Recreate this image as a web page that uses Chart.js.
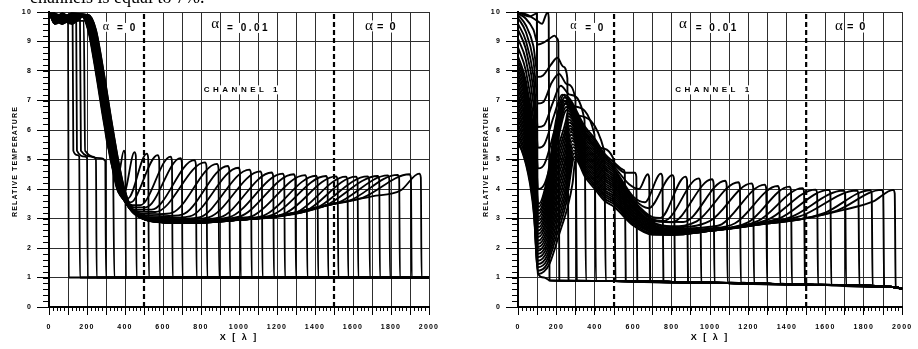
<!DOCTYPE html>
<html>
<head>
<meta charset="utf-8">
<script src="https://cdn.jsdelivr.net/npm/chart.js@4.4.1/dist/chart.umd.min.js"></script>
<style>
  html, body { margin: 0; padding: 0; background: #fff; }
  body { width: 918px; height: 349px; position: relative; overflow: hidden; }
  #wl { position: absolute; left: 0; top: 0; width: 458px; height: 349px; }
  #wr { position: absolute; left: 458px; top: 0; width: 460px; height: 349px; }
  #capt { position: absolute; left: 30px; top: -13px; font: 18px "Liberation Serif", serif; color: #000; white-space: nowrap; }
</style>
</head>
<body>
<div id="wl"><canvas id="cl"></canvas></div>
<div id="wr"><canvas id="cr"></canvas></div>
<div id="capt">channels is equal to 7%.</div>
<script>
// axis values
const X_LABELS = [0, 200, 400, 600, 800, 1000, 1200, 1400, 1600, 1800, 2000];
const Y_LABELS = [0, 1, 2, 3, 4, 5, 6, 7, 8, 9, 10];
const ALPHA_EDGES = [500, 1500];   // dashed limits of the alpha = 0.01 zone

// cold side ahead of the fronts
const BASE_L = [[2000, 1]];
const BASE_R = [[500, 0.88], [1000, 0.82], [1500, 0.76], [1950, 0.68], [2000, 0.62]];

// left panel profiles, each one stops where its front drops
const LEFT_CURVES = [
  [[0,10],[60,9.8],[100,9.9],[104,1]],
  [[0,10],[60,9.75],[124,9.9],[128,5.3],[150,5.15],[159,5.1],[163,1]],
  [[0,10],[70,9.7],[143,9.85],[147,5.3],[190,5.1],[200,5.05],[204,1]],
  [[0,10],[70,9.7],[163,9.8],[168,5.3],[230,5.1],[247,5.0],[251,1]],
  [[0,10],[80,9.7],[183,9.7],[190,5.3],[270,5.05],[296,4.95],[300,1]],
  [[0,10],[30,9.7],[70,9.9],[120,9.75],[165,9.9],[205,9.4],[245,8.0],[290,6.2],[318,5.3],[336,5.15],[344,1]],
  [[0,10],[30,9.9],[70,9.65],[120,9.85],[167,9.9],[207,9.4],[247,8.0],[292,6.2],[327,4.9],[350,4.5],[368,4.55],[394,5.3],[401,5.18],[405,1]],
  [[0,10],[30,9.8],[70,9.75],[120,9.95],[168,9.9],[208,9.4],[248,8.0],[293,6.2],[328,4.9],[358,4.0],[380,3.8],[400,3.9],[450,5.25],[457,5.12],[461,1]],
  [[0,10],[30,9.65],[70,9.85],[120,9.7],[170,9.9],[210,9.4],[250,8.0],[295,6.2],[330,4.9],[360,4.0],[390,3.7],[415,3.68],[515,5.2],[522,5.06],[526,1]],
  [[0,10],[30,9.75],[70,9.95],[120,9.8],[171,9.9],[211,9.4],[251,8.0],[296,6.2],[331,4.9],[361,4.0],[400,3.6],[430,3.55],[445,3.6],[572,5.15],[580,5.0],[584,1]],
  [[0,10],[30,9.9],[70,9.7],[120,9.9],[173,9.9],[213,9.4],[253,8.0],[298,6.2],[333,4.9],[363,4.0],[403,3.56],[440,3.45],[480,3.45],[640,5.1],[647,4.95],[651,1]],
  [[0,10],[30,9.6],[70,9.8],[120,9.65],[174,9.9],[214,9.4],[254,8.0],[299,6.2],[334,4.9],[364,4.0],[405,3.53],[450,3.38],[510,3.38],[692,5.05],[699,4.9],[703,1]],
  [[0,10],[30,9.85],[70,9.6],[120,9.85],[176,9.9],[216,9.4],[256,8.0],[301,6.2],[336,4.9],[366,4.0],[408,3.5],[460,3.3],[540,3.3],[765,4.98],[773,4.84],[777,1]],
  [[0,10],[30,9.7],[70,9.9],[120,9.75],[177,9.9],[217,9.4],[257,8.0],[302,6.2],[337,4.9],[367,4.0],[410,3.48],[470,3.24],[560,3.22],[821,4.9],[829,4.77],[833,1]],
  [[0,10],[30,9.95],[70,9.75],[120,9.6],[179,9.9],[219,9.4],[259,8.0],[304,6.2],[339,4.9],[369,4.0],[412,3.46],[480,3.18],[580,3.15],[650,3.2],[884,4.85],[892,4.72],[896,1]],
  [[0,10],[30,9.65],[70,9.85],[120,9.9],[180,9.9],[220,9.4],[260,8.0],[305,6.2],[340,4.9],[370,4.0],[414,3.44],[490,3.12],[600,3.08],[700,3.13],[941,4.78],[949,4.65],[953,1]],
  [[0,10],[30,9.8],[70,9.65],[120,9.75],[182,9.9],[222,9.4],[262,8.0],[307,6.2],[342,4.9],[372,4.0],[416,3.42],[500,3.07],[620,3.02],[740,3.07],[997,4.72],[1005,4.59],[1009,1]],
  [[0,10],[30,9.7],[70,9.95],[120,9.7],[183,9.9],[223,9.4],[263,8.0],[308,6.2],[343,4.9],[373,4.0],[418,3.4],[510,3.03],[640,2.98],[790,3.04],[1055,4.66],[1063,4.53],[1067,1]],
  [[0,10],[30,9.9],[70,9.8],[120,9.85],[185,9.9],[225,9.4],[265,8.0],[310,6.2],[345,4.9],[375,4.0],[420,3.38],[520,3.0],[650,2.95],[840,3.04],[1112,4.6],[1120,4.47],[1124,1]],
  [[0,10],[30,9.6],[70,9.7],[120,9.95],[186,9.9],[226,9.4],[266,8.0],[311,6.2],[346,4.9],[376,4.0],[422,3.36],[530,2.98],[660,2.92],[900,3.04],[1172,4.56],[1180,4.43],[1184,1]],
  [[0,10],[30,9.85],[70,9.9],[120,9.65],[188,9.9],[228,9.4],[268,8.0],[313,6.2],[348,4.9],[378,4.0],[424,3.34],[540,2.96],[670,2.9],[950,3.05],[1230,4.52],[1238,4.39],[1242,1]],
  [[0,10],[30,9.75],[70,9.6],[120,9.8],[189,9.9],[229,9.4],[269,8.0],[314,6.2],[349,4.9],[379,4.0],[426,3.32],[550,2.94],[680,2.89],[1000,3.06],[1288,4.5],[1296,4.37],[1300,1]],
  [[0,10],[30,9.95],[70,9.85],[120,9.7],[191,9.9],[231,9.4],[271,8.0],[316,6.2],[351,4.9],[381,4.0],[428,3.31],[560,2.93],[690,2.88],[1000,3.02],[1070,3.08],[1348,4.47],[1356,4.34],[1360,1]],
  [[0,10],[30,9.65],[70,9.75],[120,9.9],[192,9.9],[232,9.4],[272,8.0],[317,6.2],[352,4.9],[382,4.0],[430,3.3],[570,2.92],[700,2.87],[1000,3.0],[1130,3.1],[1405,4.45],[1413,4.32],[1417,1]],
  [[0,10],[30,9.8],[70,9.95],[120,9.6],[194,9.9],[234,9.4],[274,8.0],[319,6.2],[354,4.9],[384,4.0],[432,3.29],[575,2.91],[700,2.86],[1000,2.98],[1180,3.13],[1458,4.44],[1466,4.31],[1470,1]],
  [[0,10],[30,9.7],[70,9.65],[120,9.85],[195,9.9],[235,9.4],[275,8.0],[320,6.2],[355,4.9],[385,4.0],[434,3.28],[580,2.9],[705,2.86],[1000,2.97],[1240,3.17],[1511,4.43],[1519,4.3],[1523,1]],
  [[0,10],[30,9.9],[70,9.8],[120,9.75],[197,9.9],[237,9.4],[277,8.0],[322,6.2],[357,4.9],[387,4.0],[436,3.27],[585,2.89],[710,2.85],[1000,2.96],[1300,3.2],[1563,4.42],[1571,4.29],[1575,1]],
  [[0,10],[30,9.6],[70,9.9],[120,9.7],[198,9.9],[238,9.4],[278,8.0],[323,6.2],[358,4.9],[388,4.0],[438,3.26],[590,2.88],[712,2.85],[1000,2.95],[1200,3.08],[1350,3.25],[1616,4.42],[1624,4.29],[1628,1]],
  [[0,10],[30,9.85],[70,9.7],[120,9.95],[200,9.9],[240,9.4],[280,8.0],[325,6.2],[360,4.9],[390,4.0],[440,3.25],[595,2.88],[715,2.84],[1000,2.95],[1200,3.08],[1400,3.33],[1677,4.43],[1685,4.3],[1689,1]],
  [[0,10],[30,9.75],[70,9.85],[120,9.65],[201,9.9],[241,9.4],[281,8.0],[326,6.2],[361,4.9],[391,4.0],[442,3.24],[600,2.87],[718,2.84],[1000,2.95],[1200,3.08],[1450,3.42],[1730,4.44],[1738,4.31],[1742,1]],
  [[0,10],[30,9.95],[70,9.6],[120,9.8],[203,9.9],[243,9.4],[283,8.0],[328,6.2],[363,4.9],[393,4.0],[444,3.23],[605,2.87],[720,2.84],[1000,2.95],[1200,3.08],[1480,3.48],[1520,3.53],[1783,4.46],[1791,4.33],[1795,1]],
  [[0,10],[30,9.7],[70,9.8],[120,9.9],[204,9.9],[244,9.4],[284,8.0],[329,6.2],[364,4.9],[394,4.0],[446,3.22],[610,2.86],[722,2.84],[1000,2.95],[1200,3.08],[1500,3.5],[1580,3.6],[1835,4.48],[1843,4.35],[1847,1]],
  [[0,10],[30,9.8],[70,9.7],[120,9.75],[206,9.9],[246,9.4],[286,8.0],[331,6.2],[366,4.9],[396,4.0],[448,3.21],[615,2.86],[725,2.84],[1000,2.95],[1200,3.08],[1500,3.5],[1650,3.7],[1897,4.5],[1905,4.37],[1909,1]],
  [[0,10],[30,9.65],[70,9.9],[120,9.85],[207,9.9],[247,9.4],[287,8.0],[332,6.2],[367,4.9],[397,4.0],[450,3.2],[620,2.86],[730,2.84],[1000,2.95],[1200,3.08],[1500,3.5],[1700,3.75],[1850,3.95],[1949,4.52],[1957,4.39],[1961,1]]
];

// right panel profiles
const RIGHT_CURVES = [
  [[0,10],[60,9.85],[98,9.95],[103,1.15],[135,1.0],[168,0.9]],
  [[0,10],[50,9.9],[100,9.7],[125,9.6],[145,9.9],[155,10],[160,9.8],[164,0.9]],
  [[0,9.95],[40,9.78],[80,9.4],[105,8.9],[130,8.95],[165,9.1],[190,9.2],[205,9.1],[210,8.95],[215,0.9]],
  [[0,9.9],[40,9.56],[80,8.85],[105,7.8],[130,7.85],[170,8.2],[205,8.45],[235,8.15],[257,7.75],[263,0.9]],
  [[0,9.8],[40,9.34],[80,8.35],[106,6.9],[132,6.95],[175,7.6],[214,7.9],[255,7.55],[299,7.05],[306,0.9]],
  [[0,9.6],[40,9.04],[80,7.85],[106,6.1],[134,6.15],[180,6.9],[222,7.5],[270,7.2],[346,6.35],[354,0.89]],
  [[0,9.4],[40,8.76],[80,7.4],[107,5.4],[136,5.5],[188,6.5],[230,7.2],[290,6.8],[398,5.85],[406,0.89]],
  [[0,9.1],[40,8.4],[80,6.9],[107,4.7],[138,4.85],[195,6.1],[238,7.0],[300,6.5],[449,5.3],[457,0.89]],
  [[0,8.8],[40,8.03],[80,6.4],[108,4.0],[140,4.2],[202,5.7],[246,6.9],[310,6.3],[420,5.4],[500,4.98],[508,0.88]],
  [[0,8.5],[40,7.7],[80,6.0],[108,3.5],[150,4.3],[200,6.4],[240,7.2],[350,6.1],[400,5.7],[450,5.2],[500,4.9],[549,4.65],[556,4.55],[561,0.88]],
  [[0,8.36],[40,7.56],[80,5.87],[108,3.39],[150,4.16],[200,6.2],[243,7.1],[350,6.02],[400,5.62],[450,5.12],[500,4.83],[560,4.55],[608,4.55],[616,4.42],[621,0.88]],
  [[0,8.21],[40,7.42],[80,5.74],[108,3.27],[150,4.01],[200,6.0],[246,6.99],[350,5.94],[400,5.54],[450,5.05],[500,4.76],[580,4.15],[630,4.0],[675,4.5],[683,4.37],[688,0.87]],
  [[0,8.07],[40,7.28],[80,5.62],[107,3.16],[150,3.87],[200,5.8],[248,6.89],[350,5.86],[400,5.46],[450,4.97],[500,4.69],[600,3.74],[660,3.55],[744,4.52],[752,4.39],[757,0.87]],
  [[0,7.93],[40,7.15],[80,5.49],[107,3.05],[150,3.73],[200,5.6],[251,6.78],[350,5.78],[400,5.38],[450,4.9],[500,4.62],[600,3.68],[680,3.35],[804,4.47],[812,4.34],[817,0.86]],
  [[0,7.79],[40,7.01],[80,5.36],[107,2.93],[150,3.58],[200,5.4],[254,6.68],[350,5.7],[400,5.3],[450,4.82],[500,4.55],[600,3.63],[700,3.05],[740,3.02],[872,4.42],[880,4.29],[885,0.86]],
  [[0,7.64],[40,6.87],[80,5.23],[107,2.82],[150,3.44],[200,5.2],[250,6.33],[257,6.57],[350,5.61],[400,5.21],[450,4.74],[500,4.47],[600,3.58],[700,2.98],[760,2.92],[941,4.36],[949,4.23],[954,0.85]],
  [[0,7.5],[40,6.73],[80,5.1],[107,2.71],[150,3.3],[200,5.0],[250,6.12],[260,6.47],[350,5.53],[400,5.13],[450,4.67],[500,4.4],[600,3.52],[700,2.95],[800,2.87],[1010,4.33],[1018,4.2],[1023,0.84]],
  [[0,7.36],[40,6.6],[80,4.98],[106,2.59],[150,3.16],[200,4.8],[250,5.94],[262,6.36],[350,5.45],[400,5.05],[450,4.59],[500,4.33],[600,3.47],[700,2.91],[860,2.88],[1078,4.28],[1086,4.15],[1091,0.84]],
  [[0,7.21],[40,6.45],[80,4.85],[106,2.48],[150,3.01],[200,4.6],[250,5.74],[265,6.26],[350,5.37],[400,4.97],[450,4.52],[500,4.26],[600,3.41],[700,2.88],[800,2.74],[930,2.9],[1147,4.23],[1155,4.1],[1160,0.83]],
  [[0,7.07],[40,6.32],[80,4.72],[106,2.37],[150,2.87],[200,4.4],[250,5.52],[268,6.15],[350,5.29],[400,4.89],[450,4.44],[500,4.19],[600,3.36],[700,2.84],[800,2.7],[1000,2.92],[1216,4.19],[1224,4.06],[1229,0.82]],
  [[0,6.93],[40,6.18],[80,4.59],[106,2.25],[150,2.73],[200,4.2],[250,5.32],[271,6.05],[350,5.21],[400,4.81],[450,4.36],[500,4.12],[600,3.31],[700,2.8],[800,2.65],[1000,2.72],[1060,2.8],[1284,4.15],[1292,4.02],[1297,0.81]],
  [[0,6.79],[40,6.05],[80,4.47],[106,2.14],[150,2.58],[200,4.0],[250,5.1],[274,5.94],[350,5.13],[400,4.73],[450,4.29],[500,4.05],[600,3.25],[700,2.77],[800,2.61],[1000,2.66],[1130,2.84],[1352,4.1],[1360,3.97],[1365,0.8]],
  [[0,6.64],[40,5.9],[80,4.34],[106,2.03],[150,2.44],[200,3.8],[250,4.93],[276,5.84],[350,5.05],[400,4.65],[450,4.21],[500,3.98],[600,3.2],[700,2.73],[800,2.58],[1000,2.63],[1200,2.88],[1413,4.08],[1421,3.95],[1426,0.79]],
  [[0,6.5],[40,5.77],[80,4.2],[105,1.91],[150,2.3],[200,3.6],[250,4.72],[279,5.73],[350,4.97],[400,4.57],[450,4.14],[500,3.91],[600,3.14],[700,2.7],[800,2.55],[1000,2.61],[1250,2.92],[1481,4.03],[1489,3.9],[1494,0.78]],
  [[0,6.36],[40,5.63],[80,4.08],[105,1.8],[150,2.15],[200,3.4],[250,4.51],[282,5.63],[350,4.89],[400,4.49],[450,4.06],[500,3.84],[600,3.09],[700,2.66],[800,2.52],[1000,2.6],[1300,2.96],[1549,3.98],[1557,3.86],[1562,0.77]],
  [[0,6.21],[40,5.49],[80,3.95],[105,1.69],[150,2.01],[200,3.2],[250,4.3],[285,5.52],[350,4.8],[400,4.4],[450,3.98],[500,3.76],[600,3.04],[700,2.63],[800,2.5],[1000,2.59],[1200,2.79],[1360,3.0],[1618,3.97],[1626,3.85],[1631,0.76]],
  [[0,6.07],[40,5.35],[80,3.82],[105,1.57],[150,1.87],[200,3.0],[250,4.09],[288,5.42],[350,4.72],[400,4.32],[450,3.91],[500,3.69],[600,2.98],[700,2.59],[800,2.48],[1000,2.58],[1234,2.78],[1420,3.05],[1695,3.95],[1703,3.83],[1708,0.74]],
  [[0,5.93],[40,5.21],[80,3.7],[105,1.46],[150,1.72],[200,2.8],[250,3.91],[290,5.31],[350,4.64],[400,4.24],[450,3.83],[500,3.62],[600,2.93],[700,2.55],[800,2.46],[1000,2.58],[1234,2.78],[1470,3.08],[1764,3.95],[1772,3.83],[1777,0.73]],
  [[0,5.79],[40,5.08],[80,3.57],[104,1.35],[150,1.58],[200,2.6],[250,3.71],[293,5.21],[350,4.56],[400,4.16],[450,3.76],[500,3.55],[600,2.87],[700,2.52],[800,2.45],[1000,2.58],[1234,2.78],[1491,3.0],[1600,3.2],[1833,3.96],[1841,3.84],[1846,0.71]],
  [[0,5.64],[40,4.93],[80,3.44],[104,1.23],[150,1.44],[200,2.4],[250,3.49],[296,5.1],[350,4.48],[400,4.08],[450,3.68],[500,3.48],[600,2.82],[700,2.48],[800,2.45],[1000,2.58],[1234,2.78],[1491,3.0],[1660,3.27],[1893,3.97],[1901,3.85],[1906,0.7]],
  [[0,5.5],[19,5.32],[62,4.19],[85,3.0],[104,1.12],[135,1.2],[165,1.48],[216,2.5],[259,3.41],[284,4.19],[299,5.0],[350,4.4],[400,4.0],[450,3.6],[500,3.4],[600,2.76],[700,2.45],[800,2.45],[1000,2.58],[1234,2.78],[1491,3.0],[1700,3.3],[1850,3.58],[1953,3.97],[1961,3.85],[1966,0.68],[2000,0.62]]
];

const SANS = 'Arial, "Liberation Sans", sans-serif';
const SERIF = '"Times New Roman", "Liberation Serif", serif';

function buildDatasets(curves, tail, width) {
  const sets = curves.map(pts => {
    const lastX = pts[pts.length - 1][0];
    const all = pts.concat(tail.filter(p => p[0] > lastX));
    return {
      data: all.map(([x, y]) => ({ x, y })),
      borderColor: '#000',
      borderWidth: width,
      pointRadius: 0,
      fill: false,
      cubicInterpolationMode: 'monotone'
    };
  });
  ALPHA_EDGES.forEach(v => sets.push({
    data: [{ x: v, y: 0 }, { x: v, y: 10 }],
    borderColor: '#000',
    borderWidth: 2.2,
    borderDash: [5, 3],
    pointRadius: 0,
    fill: false
  }));
  return sets;
}

// minor ticks outside the axes, spaced tick labels
const minorTicks = {
  id: 'minorTicks',
  beforeDraw(chart) { chart.ctx.letterSpacing = '1.2px'; },
  afterDraw(chart) {
    const { ctx, scales: { x, y }, chartArea: a } = chart;
    ctx.save();
    ctx.letterSpacing = '0px';
    ctx.strokeStyle = '#000';
    ctx.lineWidth = 1;
    ctx.beginPath();
    for (let v = 0; v <= 2000; v += 20) {
      const px = Math.round(x.getPixelForValue(v)) + 0.5;
      ctx.moveTo(px, a.bottom);
      ctx.lineTo(px, a.bottom + 4);
    }
    for (let i = 0; i <= 50; i++) {
      const py = Math.round(y.getPixelForValue(i / 5)) + 0.5;
      ctx.moveTo(a.left - 6, py);
      ctx.lineTo(a.left, py);
    }
    ctx.stroke();
    ctx.restore();
  }
};

// annotations and axis titles
const labelsPlugin = {
  id: 'texts',
  afterDraw(chart, args, opts) {
    const { ctx, scales: { x, y }, chartArea: a } = chart;
    ctx.save();
    ctx.textBaseline = 'middle';
    for (const t of opts.items) {
      ctx.font = t.font;
      ctx.letterSpacing = (t.sp || 0) + 'px';
      ctx.textAlign = t.align || 'left';
      const px = x.getPixelForValue(t.x);
      const py = y.getPixelForValue(t.y);
      const w = ctx.measureText(t.text).width;
      const left = t.align === 'center' ? px - w / 2 : px;
      ctx.fillStyle = '#fff';
      ctx.fillRect(left - 1, py - t.h / 2, w + 1, t.h);
      ctx.fillStyle = '#000';
      ctx.fillText(t.text, px, py);
    }
    ctx.font = 'bold 9px ' + SANS;
    ctx.letterSpacing = '2px';
    ctx.textAlign = 'center';
    ctx.fillText('X [ λ ]', (a.left + a.right) / 2, 338);
    ctx.font = 'bold 7px ' + SANS;
    ctx.letterSpacing = '1.1px';
    ctx.translate(opts.yTitleX, (a.top + a.bottom) / 2 + 2);
    ctx.rotate(-Math.PI / 2);
    ctx.fillText('RELATIVE TEMPERATURE', 0, 0);
    ctx.restore();
  }
};

function makeChart(id, curves, tail, width, axisWidth, padRight, yTitleX, items) {
  return new Chart(document.getElementById(id), {
    type: 'line',
    data: { datasets: buildDatasets(curves, tail, width) },
    options: {
      responsive: true,
      maintainAspectRatio: false,
      animation: false,
      events: [],
      layout: { padding: { top: 12, right: padRight, left: 0, bottom: 0 } },
      scales: {
        x: {
          type: 'linear', min: 0, max: 2000,
          afterFit: s => { s.height = 42; },
          border: { color: '#000', width: 2 },
          grid: {
            color: c => ALPHA_EDGES.includes(c.tick.value) ? 'rgba(0,0,0,0)' : '#2e2e2e',
            tickColor: '#000', lineWidth: 1, tickLength: 8
          },
          ticks: {
            stepSize: 100, autoSkip: false, maxRotation: 0, padding: 8, color: '#000',
            font: { family: SANS, size: 7, weight: 'bold' },
            callback: v => X_LABELS.includes(v) ? String(v) : ''
          }
        },
        y: {
          min: 0, max: 10,
          afterFit: s => { s.width = axisWidth; },
          border: { color: '#000', width: 2 },
          grid: { color: '#2e2e2e', tickColor: '#000', lineWidth: 1, tickLength: 12 },
          ticks: {
            stepSize: 1, padding: 5, color: '#000',
            font: { family: SANS, size: 7, weight: 'bold' },
            callback: v => Y_LABELS.includes(v) ? String(v) : ''
          }
        }
      },
      plugins: {
        legend: { display: false },
        tooltip: { enabled: false },
        texts: { items, yTitleX }
      }
    },
    plugins: [minorTicks, labelsPlugin]
  });
}

const eqFont = 'bold 10px ' + SANS;
const chanFont = 'bold 8px ' + SANS;

makeChart('cl', LEFT_CURVES, BASE_L, 1.8, 49, 29, 15, [
  { text: 'α', x: 300, y: 9.5, font: '12px ' + SERIF, align: 'center', h: 10 },
  { text: '= 0', x: 358, y: 9.46, font: eqFont, sp: 2, h: 10 },
  { text: 'α', x: 874, y: 9.6, font: '15px ' + SERIF, align: 'center', h: 11 },
  { text: '= 0.01', x: 937, y: 9.46, font: eqFont, sp: 2.5, h: 10 },
  { text: 'α', x: 1684, y: 9.53, font: '15px ' + SERIF, align: 'center', h: 11 },
  { text: '= 0', x: 1726, y: 9.49, font: 'bold 11px ' + SANS, sp: 1.5, h: 11 },
  { text: 'CHANNEL 1', x: 1018, y: 7.36, font: chanFont, sp: 3.5, align: 'center', h: 9 }
]);

makeChart('cr', RIGHT_CURVES, BASE_R, 1.9, 60, 11, 28, [
  { text: 'α', x: 288, y: 9.53, font: '12px ' + SERIF, align: 'center', h: 10 },
  { text: '= 0', x: 350, y: 9.46, font: eqFont, sp: 2, h: 10 },
  { text: 'α', x: 858, y: 9.6, font: '15px ' + SERIF, align: 'center', h: 11 },
  { text: '= 0.01', x: 925, y: 9.46, font: eqFont, sp: 2.5, h: 10 },
  { text: 'α', x: 1671, y: 9.53, font: '15px ' + SERIF, align: 'center', h: 11 },
  { text: '= 0', x: 1712, y: 9.49, font: 'bold 11px ' + SANS, sp: 1.5, h: 11 },
  { text: 'CHANNEL 1', x: 1020, y: 7.36, font: chanFont, sp: 3.5, align: 'center', h: 9 }
]);
</script>
</body>
</html>
